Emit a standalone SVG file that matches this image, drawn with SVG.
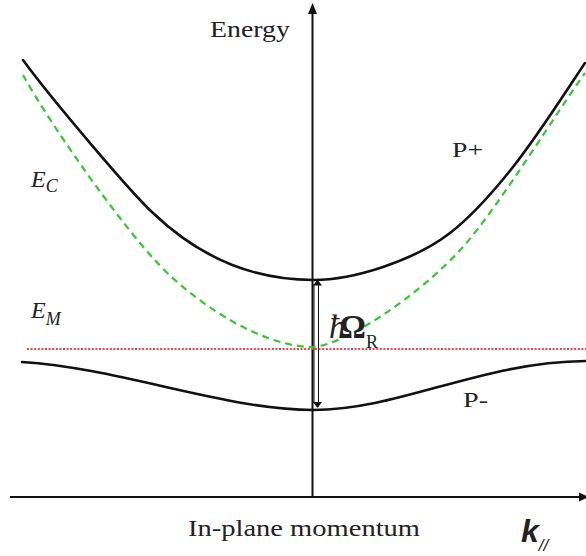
<svg xmlns="http://www.w3.org/2000/svg" width="586" height="556" viewBox="0 0 586 556">
<style>
.serif{font-family:"Liberation Serif","Times New Roman",serif;fill:#222}
.curve{fill:none;stroke:#111;stroke-width:2.6;stroke-linecap:round;stroke-linejoin:round}
.photon{fill:none;stroke:#2ecc2e;stroke-width:2.2;stroke-dasharray:7 5}
.exc{fill:none;stroke:#ff3b3b;stroke-width:2;stroke-dasharray:2 1.6}
.axis{stroke:#111;stroke-width:2;fill:none}
</style>
<rect width="586" height="556" fill="#fff"/>
<g id="connectors">
  <g id="axes">
    <line class="axis" x1="312.5" y1="12" x2="312.5" y2="497"/>
    <polygon points="312.5,3 308,14 317,14" fill="#111"/>
    <line class="axis" x1="10" y1="497" x2="582" y2="497"/>
    <polygon points="589,497 579,492.5 579,501.5" fill="#111"/>
  </g>
  <g id="rabi-arrow">
    <line x1="314" y1="284" x2="314" y2="403" stroke="#111" stroke-width="1"/>
    <line x1="318.5" y1="284" x2="318.5" y2="403" stroke="#111" stroke-width="1"/>
    <polygon points="317.5,279.5 313,285.5 322,285.5" fill="#111"/>
    <polygon points="317.5,408 313,402 322,402" fill="#111"/>
  </g>
</g>
<g id="exciton-line">
  <line class="exc" x1="27" y1="349" x2="586" y2="349"/>
</g>
<g id="photon-curve">
  <path class="photon" d="M23,75 C55,132 120,222 153,258 C190,300 260,347 313,347 C345,345 420,295 463,247 C500,205 560,107 585,73"/>
</g>
<g id="upper-polariton">
  <path class="curve" d="M23,60 C50,97 131,193 153,213 C198,256 250,280 313,280 C336,280 359.7,274.9 383,267 C405.3,259.4 427.7,250.2 450,233 C471,216.8 492,193.5 513,167 C537,136.8 561,99 585,63"/>
</g>
<g id="lower-polariton">
  <path class="curve" d="M22,362 C120,368 225,410 313,410 C400,410 480,362 586,361"/>
</g>
<g id="labels">
  <text class="serif" x="210" y="37" font-size="24" textLength="80" lengthAdjust="spacingAndGlyphs">Energy</text>
  <text class="serif" x="452" y="157" font-size="22" textLength="31" lengthAdjust="spacingAndGlyphs">P+</text>
  <text class="serif" x="463" y="407" font-size="22" textLength="25" lengthAdjust="spacingAndGlyphs">P-</text>
  <text class="serif" x="31" y="187" font-size="24" font-style="italic">E<tspan font-size="18" dy="5">C</tspan></text>
  <text class="serif" x="31" y="318" font-size="24" font-style="italic">E<tspan font-size="18" dy="7">M</tspan></text>
  <text class="serif" x="329" y="338" font-size="33" fill="#111"><tspan font-style="italic">ħ</tspan><tspan dx="-6" font-weight="bold">Ω</tspan><tspan font-size="18" dy="10" fill="#222">R</tspan></text>
  <text class="serif" x="188" y="536" font-size="23" textLength="232" lengthAdjust="spacingAndGlyphs">In-plane momentum</text>
  <text x="521" y="542" font-family="Liberation Sans, Arial, sans-serif" font-size="32" font-weight="bold" font-style="italic" fill="#222">k<tspan font-size="17" font-weight="normal" dy="9">//</tspan></text>
</g>
</svg>
